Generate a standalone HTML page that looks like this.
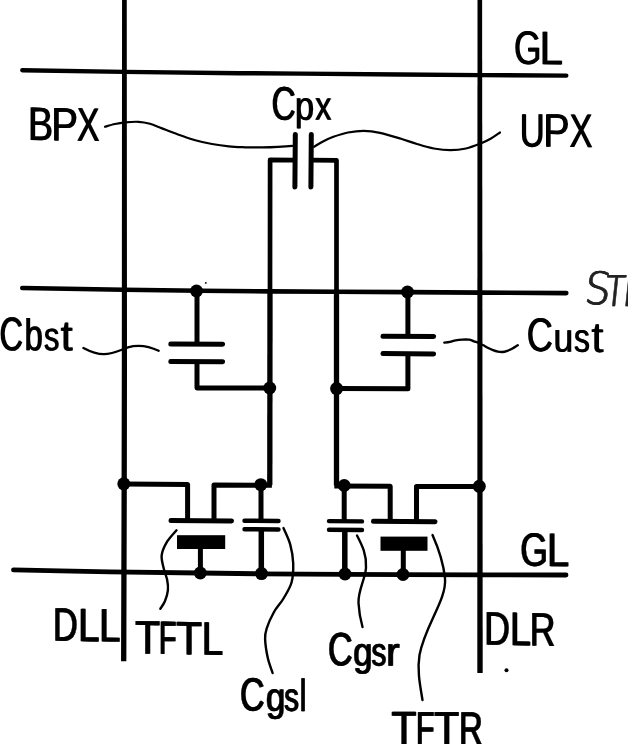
<!DOCTYPE html>
<html lang="en">
<head>
<meta charset="utf-8">
<title>Pixel circuit diagram</title>
<style>
html,body{margin:0;padding:0;background:#fff;}
body{width:628px;height:744px;overflow:hidden;}
svg{display:block;}
</style>
</head>
<body>
<svg width="628" height="744" viewBox="0 0 628 744">
<rect width="628" height="744" fill="#fff"/>
<g stroke="#000" fill="none" stroke-linecap="butt" stroke-linejoin="round">
<g stroke-width="4.6" stroke-linecap="round" stroke-linejoin="round">
<polyline points="22.3,70.3 124,71.9 240,73.2 300,73.6 400,74.5 480,75.1 566.3,75.6" stroke-width="4.4"/>
<polyline points="22.3,288 124,289.8 200,290.8 270,291.4 336,291.7 407,292.1 480,292.6 566.3,293.1" stroke-width="4.6"/>
<polyline points="13.5,569.9 60,570.8 110,571.8 200,573 261,573.8 345,574.3 403,574.6 480,574.8 566,575" stroke-width="4.8"/>
</g>
<g stroke-width="5.2">
<polygon points="122.05,0 126.75,0 127,365 126.85,480 126.45,625 126.35,661.3 121.05,661.3 121.15,625 121.55,480 121.8,365" fill="#000" stroke="none"/>
<polygon points="477.5,0 482.1,0 482.4,300 482.7,673 477.3,673 477.4,300" fill="#000" stroke="none"/>
</g>
<g stroke-width="5">
<line x1="295.3" y1="134.6" x2="294.9" y2="187" stroke-width="5" stroke-linecap="round"/>
<line x1="311.3" y1="134.6" x2="310.9" y2="187" stroke-width="5" stroke-linecap="round"/>
<polyline points="295,160.1 270.1,159.9 270,292" stroke-width="4.7"/><line x1="270" y1="290" x2="269.8" y2="485" stroke-width="5.3"/>
<polyline points="311.4,160.2 336.5,160.4 336.5,292" stroke-width="4.7"/><line x1="336.5" y1="290" x2="336.5" y2="485.5" stroke-width="5.3"/>
<line x1="197" y1="291" x2="197" y2="343.3"/>
<line x1="170.8" y1="343.9" x2="222.6" y2="344.3" stroke-linecap="round"/>
<line x1="170.8" y1="361.4" x2="222.6" y2="361.8" stroke-linecap="round"/>
<polyline points="197,361.5 197,387.9 269.7,388.1"/>
<line x1="407.9" y1="292" x2="407.9" y2="336.2"/>
<line x1="383" y1="336.2" x2="433.6" y2="336.6" stroke-linecap="round"/>
<line x1="383" y1="353.6" x2="433.6" y2="354" stroke-linecap="round"/>
<polyline points="407.9,353.8 407.9,388.8 336.6,388.5"/>
<polyline points="124,484 187.6,484.4 187.6,520.5"/>
<polyline points="214,520.5 214,485 271.9,485.2"/>
<line x1="171" y1="520.6" x2="231.5" y2="521" stroke-linecap="round"/>
<line x1="200.4" y1="549" x2="200.4" y2="573"/>
<line x1="261" y1="485" x2="261" y2="520.5"/>
<line x1="244.5" y1="520.7" x2="278.5" y2="521" stroke-linecap="round" stroke-width="4.4"/>
<line x1="244.5" y1="529.2" x2="278.5" y2="529.5" stroke-linecap="round" stroke-width="4.4"/>
<line x1="261.3" y1="529.2" x2="261.3" y2="573.5" stroke-width="5.5"/>
<line x1="344.2" y1="485.5" x2="344.2" y2="521"/>
<line x1="329" y1="521.1" x2="362" y2="521.4" stroke-linecap="round" stroke-width="4.4"/>
<line x1="329" y1="529.7" x2="362" y2="530" stroke-linecap="round" stroke-width="4.4"/>
<line x1="344.8" y1="529.7" x2="344.8" y2="574" stroke-width="5.5"/>
<polyline points="334.3,485.9 390.2,486.3 390.2,521.3"/>
<polyline points="416.5,521.3 416.5,486.4 479.5,486.6"/>
<line x1="373.5" y1="521.3" x2="435" y2="521.8" stroke-linecap="round"/>
<line x1="403.3" y1="550" x2="403.3" y2="574.4"/>
</g>
<g stroke-width="2.4" stroke-linecap="round">
<path stroke-width="2.2" d="M105.0,126.8 C106.7,126.3 111.7,124.7 115.0,124.0 C118.3,123.3 121.2,122.8 125.1,122.4 C129.0,122.0 134.3,121.6 138.5,121.8 C142.7,122.0 146.1,122.7 150.0,123.8 C153.9,124.9 157.2,126.6 161.9,128.4 C166.6,130.2 172.4,132.5 178.0,134.5 C183.6,136.5 189.6,138.6 195.3,140.2 C201.0,141.8 206.4,143.0 212.0,144.0 C217.6,145.0 223.3,145.8 228.8,146.4 C234.3,147.0 239.4,147.1 245.0,147.3 C250.6,147.5 256.7,147.5 262.2,147.4 C267.7,147.3 273.0,147.1 278.0,146.8 C283.0,146.5 289.9,146.0 292.3,145.8"/>
<path stroke-width="2.2" d="M314.0,146.8 C315.5,145.9 319.8,143.2 323.0,141.5 C326.2,139.8 329.2,138.3 333.4,136.8 C337.6,135.3 343.0,133.5 348.0,132.5 C353.0,131.5 358.2,130.8 363.5,130.8 C368.8,130.9 373.9,131.5 380.0,132.8 C386.1,134.1 394.1,136.6 400.3,138.5 C406.5,140.4 411.4,142.3 417.0,144.0 C422.6,145.7 428.2,147.5 433.8,148.5 C439.4,149.5 445.1,150.2 450.5,150.2 C455.9,150.2 461.0,149.6 466.0,148.5 C471.0,147.4 476.4,145.2 480.6,143.5 C484.8,141.8 487.8,140.3 491.0,138.5 C494.2,136.7 498.5,133.5 500.0,132.5"/>
<path stroke-width="2.3" d="M83.4,348 C90,351.5 97,354.3 104,354.2 C115,354 125,347.5 133,346.2 C143,344.7 151,347 158.7,350.8"/>
<path stroke-width="2.3" d="M444.3,342.7 C445.2,342.6 448.1,342.3 450.0,341.9 C451.9,341.5 453.6,340.7 455.7,340.3 C457.8,339.9 460.2,339.7 462.4,339.6 C464.6,339.5 467.2,339.4 469.1,339.7 C471.0,340.0 472.3,340.8 473.9,341.3 C475.5,341.9 477.1,342.3 478.7,343.0 C480.3,343.7 481.8,344.5 483.4,345.3 C485.0,346.1 486.6,347.2 488.2,348.0 C489.8,348.8 491.4,349.6 493.0,350.2 C494.6,350.8 496.2,351.3 497.8,351.6 C499.4,351.9 500.9,352.1 502.5,352.0 C504.1,351.9 505.6,351.4 507.3,350.8 C509.0,350.2 510.8,349.4 512.5,348.5 C514.2,347.6 516.9,345.8 517.8,345.3"/>
<path d="M176.5,530.3 C174.9,532.2 169.6,537.6 167.1,541.7 C164.6,545.9 162.2,550.7 161.7,555.2 C161.1,559.7 162.9,564.6 163.8,568.7 C164.7,572.8 166.4,576.0 167.1,579.6 C167.8,583.2 168.3,586.8 167.9,590.4 C167.5,594.0 166.2,598.1 164.9,601.2 C163.6,604.3 161.1,607.5 160.3,608.8"/>
<path d="M283.5,528.1 C284.6,530.8 288.6,538.5 290.2,544.4 C291.8,550.3 293.0,557.0 293.2,563.3 C293.4,569.6 293.2,576.4 291.6,582.3 C290.0,588.2 286.4,593.5 283.5,598.5 C280.6,603.5 276.8,607.0 274.0,612.0 C271.2,617.0 268.2,623.8 266.7,628.3 C265.2,632.8 264.9,634.1 265.1,639.1 C265.3,644.1 266.6,652.5 267.8,658.1 C269.1,663.8 271.8,670.5 272.6,673.0"/>
<path d="M357,535.5 C362,545 367,555 366,568 C365,580 358,590 358.5,603 C359,612 360.5,620 362.5,627"/>
<path d="M432.5,535 C437,545 443,560 445,578 C447,600 425,625 419.5,655 C417,670 420,685 422.5,700"/>
</g>
</g>
<g fill="#000">
<rect x="177" y="535.2" width="48.2" height="13.8"/>
<rect x="380.5" y="536.6" width="47" height="14.2"/>
<circle cx="196.5" cy="291" r="6.5"/>
<circle cx="407.5" cy="292" r="6.5"/>
<circle cx="269.7" cy="388" r="6.5"/>
<circle cx="336.6" cy="388.6" r="6.5"/>
<circle cx="123.8" cy="483.8" r="6.5"/>
<circle cx="260.8" cy="484.7" r="6.5"/>
<circle cx="344.2" cy="485.5" r="6.5"/>
<circle cx="479.3" cy="486.3" r="6.5"/>
<circle cx="200.3" cy="573" r="6.5"/>
<circle cx="261.5" cy="573.6" r="6.5"/>
<circle cx="345" cy="574" r="6.5"/>
<circle cx="403" cy="574.5" r="6.5"/>
<circle cx="506.5" cy="670.3" r="2"/>
<circle cx="205.8" cy="282.9" r="0.9"/>
</g>
<defs>
<filter id="w-xl" x="-5%" y="-10%" width="110%" height="130%"><feOffset in="SourceGraphic" dx="0.55" dy="0.15" result="o"/><feMerge><feMergeNode in="SourceGraphic"/><feMergeNode in="o"/></feMerge></filter>
<filter id="w-lt" x="-5%" y="-10%" width="110%" height="130%"><feOffset in="SourceGraphic" dx="0.8" dy="0.15" result="o"/><feMerge><feMergeNode in="SourceGraphic"/><feMergeNode in="o"/></feMerge></filter>
<filter id="w-md" x="-5%" y="-10%" width="110%" height="130%"><feOffset in="SourceGraphic" dx="0.9" dy="0.15" result="o"/><feMerge><feMergeNode in="SourceGraphic"/><feMergeNode in="o"/></feMerge></filter>
<filter id="w-hv" x="-5%" y="-10%" width="110%" height="130%"><feOffset in="SourceGraphic" dx="1.0" dy="0.15" result="o"/><feMerge><feMergeNode in="SourceGraphic"/><feMergeNode in="o"/></feMerge></filter>
<filter id="w-g" x="-10%" y="-10%" width="120%" height="120%"><feOffset in="SourceGraphic" dx="0.5" dy="0" result="o"/><feMerge><feMergeNode in="SourceGraphic"/><feMergeNode in="o"/></feMerge></filter>
</defs>
<g font-family="'Liberation Sans', sans-serif" font-size="47" fill="#000" stroke="#000" stroke-linejoin="round">
<g filter="url(#w-xl)" stroke-width="0.0"><text aria-label="GL" transform="translate(515.4 0) skewY(0.37) translate(-515.4 0)"><tspan x="513.62" y="64.00" textLength="27.46" lengthAdjust="spacingAndGlyphs" font-size="47.36">G</tspan><tspan x="538.93" y="64.00" textLength="23.52" lengthAdjust="spacingAndGlyphs" font-size="47.36">L</tspan></text></g>
<g filter="url(#w-lt)" stroke-width="0.1"><text aria-label="BPX" transform="translate(30.6 0) skewY(0.75) translate(-30.6 0)"><tspan x="27.55" y="140.15" textLength="25.09" lengthAdjust="spacingAndGlyphs" font-size="47.21">B</tspan><tspan x="50.86" y="140.15" textLength="26.71" lengthAdjust="spacingAndGlyphs" font-size="47.21">P</tspan><tspan x="76.48" y="140.15" textLength="22.49" lengthAdjust="spacingAndGlyphs" font-size="47.21">X</tspan></text></g>
<g filter="url(#w-xl)" stroke-width="0.0"><text aria-label="UPX" transform="translate(521.9 0) skewY(0.41) translate(-521.9 0)"><tspan x="519.23" y="146.70" textLength="24.99" lengthAdjust="spacingAndGlyphs" font-size="47.36">U</tspan><tspan x="542.76" y="146.70" textLength="26.38" lengthAdjust="spacingAndGlyphs" font-size="47.36">P</tspan><tspan x="569.02" y="146.70" textLength="23.05" lengthAdjust="spacingAndGlyphs" font-size="47.36">X</tspan></text></g>
<g filter="url(#w-lt)" stroke-width="0.1"><text aria-label="Cpx" transform="translate(272.6 0) skewY(0.20) translate(-272.6 0)"><tspan x="270.93" y="119.65" textLength="24.32" lengthAdjust="spacingAndGlyphs" font-size="47.21">C</tspan><tspan x="294.53" y="119.65" textLength="19.06" lengthAdjust="spacingAndGlyphs" font-size="40.51">p</tspan><tspan x="314.68" y="119.65" textLength="16.13" lengthAdjust="spacingAndGlyphs" font-size="40.51">x</tspan></text></g>
<g filter="url(#w-lt)" stroke-width="0.1"><text aria-label="Cbst" transform="translate(0.7 0) skewY(0.16) translate(-0.7 0)"><tspan x="-0.92" y="350.25" textLength="23.53" lengthAdjust="spacingAndGlyphs" font-size="47.21">C</tspan><tspan x="24.01" y="350.25" textLength="18.34" lengthAdjust="spacingAndGlyphs" font-size="44.41">b</tspan><tspan x="43.58" y="350.25" textLength="15.39" lengthAdjust="spacingAndGlyphs" font-size="40.51">s</tspan><tspan x="60.29" y="350.25" textLength="11.90" lengthAdjust="spacingAndGlyphs" font-size="42.81">t</tspan></text></g>
<g filter="url(#w-xl)" stroke-width="0.0"><text aria-label="Cust" transform="translate(528.0 0) skewY(0.74) translate(-528.0 0)"><tspan x="526.16" y="351.10" textLength="26.17" lengthAdjust="spacingAndGlyphs" font-size="47.36">C</tspan><tspan x="553.10" y="351.10" textLength="19.70" lengthAdjust="spacingAndGlyphs" font-size="40.66">u</tspan><tspan x="573.42" y="351.10" textLength="15.88" lengthAdjust="spacingAndGlyphs" font-size="40.66">s</tspan><tspan x="590.92" y="351.10" textLength="11.93" lengthAdjust="spacingAndGlyphs" font-size="42.96">t</tspan></text></g>
<g filter="url(#w-md)" stroke-width="0.25"><text aria-label="GL" transform="translate(521.4 0) skewY(0.49) translate(-521.4 0)"><tspan x="519.70" y="565.67" textLength="27.77" lengthAdjust="spacingAndGlyphs" font-size="47.00">G</tspan><tspan x="546.53" y="565.67" textLength="22.18" lengthAdjust="spacingAndGlyphs" font-size="47.00">L</tspan></text></g>
<g filter="url(#w-hv)" stroke-width="0.45"><text aria-label="DLL" transform="translate(55.2 0) skewY(1.06) translate(-55.2 0)"><tspan x="52.56" y="640.57" textLength="24.72" lengthAdjust="spacingAndGlyphs" font-size="46.71">D</tspan><tspan x="77.74" y="640.57" textLength="21.35" lengthAdjust="spacingAndGlyphs" font-size="46.71">L</tspan><tspan x="98.65" y="640.57" textLength="21.23" lengthAdjust="spacingAndGlyphs" font-size="46.71">L</tspan></text></g>
<g filter="url(#w-hv)" stroke-width="0.45"><text aria-label="TFTL" transform="translate(135.4 0) skewY(1.12) translate(-135.4 0)"><tspan x="134.68" y="653.27" textLength="24.86" lengthAdjust="spacingAndGlyphs" font-size="46.71">T</tspan><tspan x="158.38" y="653.27" textLength="17.53" lengthAdjust="spacingAndGlyphs" font-size="46.71">F</tspan><tspan x="175.85" y="653.27" textLength="25.81" lengthAdjust="spacingAndGlyphs" font-size="46.71">T</tspan><tspan x="201.24" y="653.27" textLength="21.35" lengthAdjust="spacingAndGlyphs" font-size="46.71">L</tspan></text></g>
<g filter="url(#w-hv)" stroke-width="0.45"><text aria-label="Cgsl" transform="translate(241.2 0) skewY(0.36) translate(-241.2 0)"><tspan x="239.63" y="710.57" textLength="24.60" lengthAdjust="spacingAndGlyphs" font-size="46.71">C</tspan><tspan x="265.44" y="710.57" textLength="19.30" lengthAdjust="spacingAndGlyphs" font-size="40.01">g</tspan><tspan x="283.65" y="710.57" textLength="14.64" lengthAdjust="spacingAndGlyphs" font-size="40.01">s</tspan><tspan x="299.15" y="710.57" textLength="6.58" lengthAdjust="spacingAndGlyphs" font-size="44.91">l</tspan></text></g>
<g filter="url(#w-hv)" stroke-width="0.45"><text aria-label="Cgsr" transform="translate(329.2 0) skewY(0.33) translate(-329.2 0)"><tspan x="327.63" y="665.27" textLength="24.60" lengthAdjust="spacingAndGlyphs" font-size="46.71">C</tspan><tspan x="352.74" y="665.27" textLength="19.30" lengthAdjust="spacingAndGlyphs" font-size="40.01">g</tspan><tspan x="371.04" y="665.27" textLength="14.87" lengthAdjust="spacingAndGlyphs" font-size="40.01">s</tspan><tspan x="385.51" y="665.27" textLength="13.64" lengthAdjust="spacingAndGlyphs" font-size="40.01">r</tspan></text></g>
<g filter="url(#w-hv)" stroke-width="0.45"><text aria-label="TFTR" transform="translate(391.8 0) skewY(0.32) translate(-391.8 0)"><tspan x="391.08" y="744.07" textLength="24.96" lengthAdjust="spacingAndGlyphs" font-size="46.71">T</tspan><tspan x="415.46" y="744.07" textLength="18.51" lengthAdjust="spacingAndGlyphs" font-size="46.71">F</tspan><tspan x="433.88" y="744.07" textLength="24.96" lengthAdjust="spacingAndGlyphs" font-size="46.71">T</tspan><tspan x="458.55" y="744.07" textLength="23.82" lengthAdjust="spacingAndGlyphs" font-size="46.71">R</tspan></text></g>
<g filter="url(#w-md)" stroke-width="0.25"><text aria-label="DLR" transform="translate(486.5 0) skewY(1.10) translate(-486.5 0)"><tspan x="483.67" y="644.67" textLength="25.74" lengthAdjust="spacingAndGlyphs" font-size="47.00">D</tspan><tspan x="509.61" y="644.67" textLength="20.94" lengthAdjust="spacingAndGlyphs" font-size="47.00">L</tspan><tspan x="529.38" y="644.67" textLength="25.68" lengthAdjust="spacingAndGlyphs" font-size="47.00">R</tspan></text></g>
</g>
<g filter="url(#w-g)"><text aria-label="STL" transform="translate(0 305) skewX(-6)" font-family="'DejaVu Sans', 'Liberation Sans', sans-serif" font-weight="200" font-size="42" fill="#222" stroke="#222" stroke-width="0.7"><tspan x="583.2" y="-0.6" font-size="44.5" textLength="25.4" lengthAdjust="spacingAndGlyphs">S</tspan><tspan x="603.5" y="0.6" textLength="19.4" lengthAdjust="spacingAndGlyphs">T</tspan><tspan x="621.5" y="0.9" textLength="18.6" lengthAdjust="spacingAndGlyphs">L</tspan></text></g>
</svg>
</body>
</html>
